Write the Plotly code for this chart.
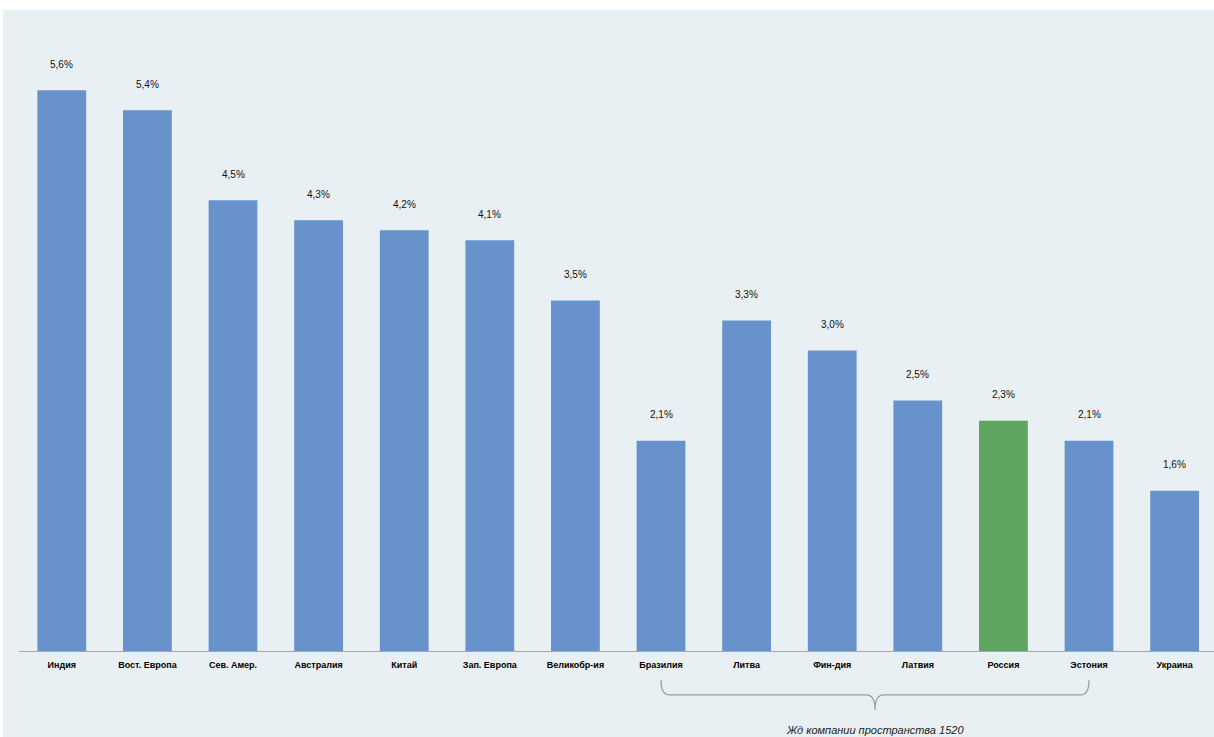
import plotly.graph_objects as go

categories = ["Индия", "Вост. Европа", "Сев. Амер.", "Австралия", "Китай", "Зап. Европа",
              "Великобр-ия", "Бразилия", "Литва", "Фин-дия", "Латвия", "Россия", "Эстония", "Украина"]
values = [5.6, 5.4, 4.5, 4.3, 4.2, 4.1, 3.5, 2.1, 3.3, 3.0, 2.5, 2.3, 2.1, 1.6]
highlight = "Россия"
group_label = "Жд компании пространства 1520"
group_start = "Бразилия"
group_end = "Эстония"

BLUE = "#6792cc"
GREEN = "#5fa55f"
PANEL = "#e9f0f3"

xs = list(range(len(categories)))
colors = [GREEN if c == highlight else BLUE for c in categories]

fig = go.Figure()
fig.add_trace(go.Bar(x=xs, y=values, marker=dict(color=colors, line=dict(width=0)),
                     width=0.57, hoverinfo="skip"))

annotations = []
for x, v in zip(xs, values):
    annotations.append(dict(x=x, y=v, xref="x", yref="y", text=f"{v:.1f}%".replace(".", ","),
                            showarrow=False, yshift=26, yanchor="middle",
                            font=dict(family="Liberation Sans", size=10, color="#111")))

i0 = categories.index(group_start)
i1 = categories.index(group_end)
mid = (i0 + i1) / 2
ya, yb, yc = -0.0452, -0.0686, -0.092
r = 0.1
path = (f"M {i0},{ya} Q {i0},{yb} {i0+r},{yb} L {mid-r},{yb} Q {mid},{yb} {mid},{yc} "
        f"Q {mid},{yb} {mid+r},{yb} L {i1-r},{yb} Q {i1},{yb} {i1},{ya}")

annotations.append(dict(x=mid, y=-0.1225, xref="x", yref="paper", text=f"<i>{group_label}</i>",
                        showarrow=False, yanchor="middle",
                        font=dict(family="Liberation Sans", size=11, color="#222")))

fig.update_layout(
    width=1214, height=737,
    margin=dict(l=19, r=0, t=10, b=86),
    paper_bgcolor="white",
    plot_bgcolor="rgba(0,0,0,0)",
    showlegend=False,
    annotations=annotations,
    shapes=[
        dict(type="rect", xref="paper", yref="paper", x0=-16/1195, x1=1.01, y0=-86/641, y1=1,
             fillcolor=PANEL, line=dict(width=0), layer="below"),
        dict(type="path", xref="x", yref="paper", path=path,
             line=dict(color="#9a9a9a", width=1.2)),
    ],
    xaxis=dict(range=[-0.5, len(categories) - 0.54], tickvals=xs, ticktext=[f"<b>{c}</b>" for c in categories],
               showgrid=False, zeroline=False, showline=True, linecolor="#a6a6a6", linewidth=1,
               ticks="", ticklabelstandoff=5,
               tickfont=dict(family="Liberation Sans", size=9, color="#000")),
    yaxis=dict(range=[0, 6.4], visible=False, showgrid=False, zeroline=False),
)

fig.write_html("out.html", config={"displayModeBar": False},
               post_script="document.body.style.margin='0';document.body.style.overflow='hidden';")
